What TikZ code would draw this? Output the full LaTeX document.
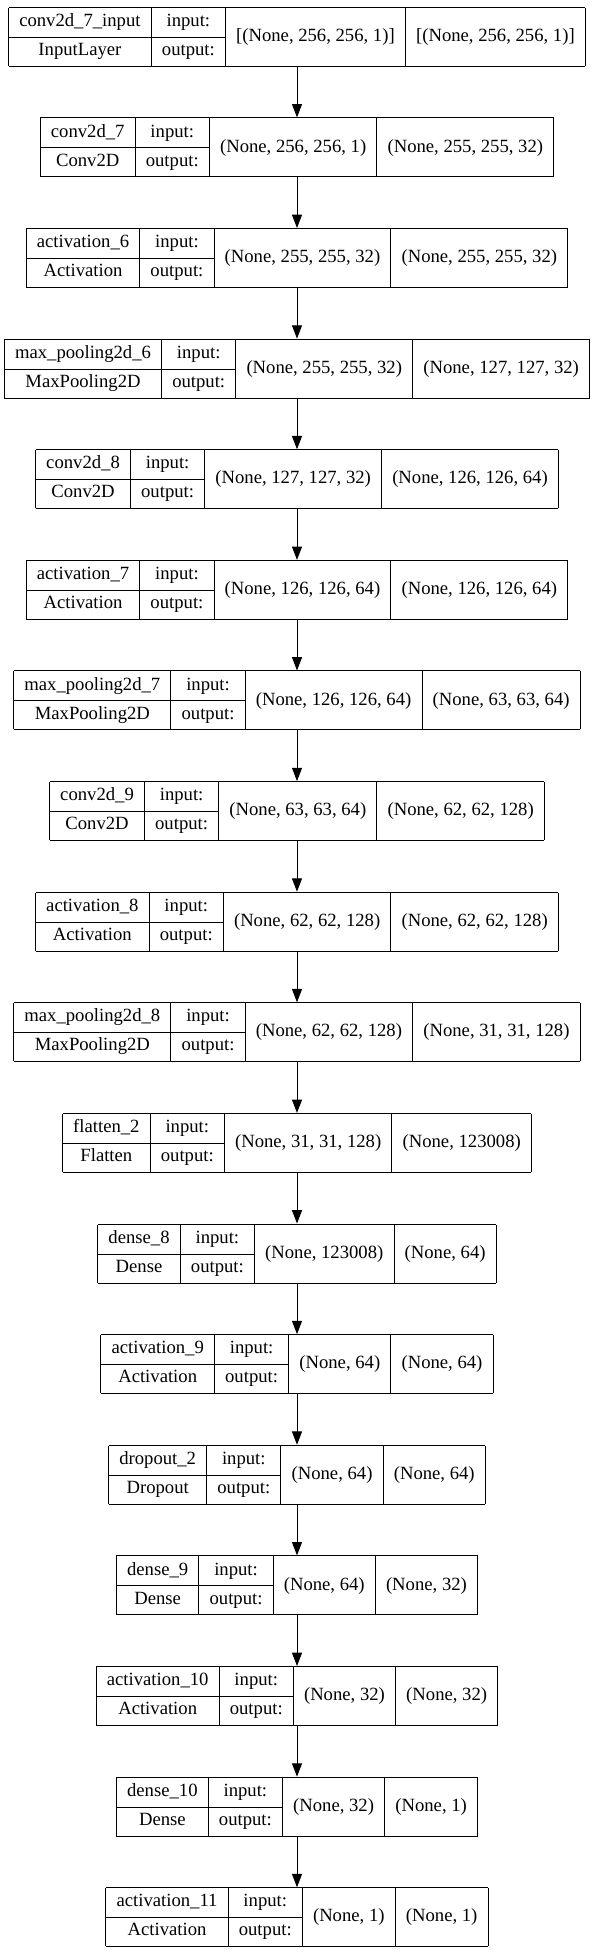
\documentclass[tikz,border=0pt]{standalone}
\usepackage{fontspec}
\setmainfont{Liberation Serif}
\usetikzlibrary{arrows.meta}
\setlength{\arrayrulewidth}{0.75pt}
\setlength{\tabcolsep}{8pt}
\newcommand{\cellstrut}{\rule[-7.75pt]{0pt}{21.75pt}}
\newcommand{\layerbox}[4]{\begin{tabular}{|c|c|c|c|}\hline
#1\cellstrut & input: & \smash{\raisebox{-11.25pt}{#3}} & \smash{\raisebox{-11.25pt}{#4}}\\\cline{1-2}
#2\cellstrut & output: & & \\\hline
\end{tabular}}
\tikzset{
  layer/.style={inner sep=0pt,outer sep=0pt},
  flow/.style={line width=0.75pt,-{Triangle[length=10pt,width=7.5pt]}}
}

\begin{document}
\begin{tikzpicture}[font=\fontsize{14}{16.8}\selectfont]
\useasboundingbox (0,0) rectangle (446.25pt,-1466.25pt);
\node[layer] (in0) at (222.75pt,-27.6pt) {\layerbox{conv2d\_7\_input}{InputLayer}{[(None, 256, 256, 1)]}{[(None, 256, 256, 1)]}};
\node[layer] (conv7) at (222.75pt,-110.56pt) {\layerbox{conv2d\_7}{Conv2D}{(None, 256, 256, 1)}{(None, 255, 255, 32)}};
\node[layer] (act6) at (222.75pt,-193.52pt) {\layerbox{activation\_6}{Activation}{(None, 255, 255, 32)}{(None, 255, 255, 32)}};
\node[layer] (pool6) at (222.75pt,-276.48pt) {\layerbox{max\_pooling2d\_6}{MaxPooling2D}{(None, 255, 255, 32)}{(None, 127, 127, 32)}};
\node[layer] (conv8) at (222.75pt,-359.44pt) {\layerbox{conv2d\_8}{Conv2D}{(None, 127, 127, 32)}{(None, 126, 126, 64)}};
\node[layer] (act7) at (222.75pt,-442.4pt) {\layerbox{activation\_7}{Activation}{(None, 126, 126, 64)}{(None, 126, 126, 64)}};
\node[layer] (pool7) at (222.75pt,-525.36pt) {\layerbox{max\_pooling2d\_7}{MaxPooling2D}{(None, 126, 126, 64)}{(None, 63, 63, 64)}};
\node[layer] (conv9) at (222.75pt,-608.32pt) {\layerbox{conv2d\_9}{Conv2D}{(None, 63, 63, 64)}{(None, 62, 62, 128)}};
\node[layer] (act8) at (222.75pt,-691.28pt) {\layerbox{activation\_8}{Activation}{(None, 62, 62, 128)}{(None, 62, 62, 128)}};
\node[layer] (pool8) at (222.75pt,-774.24pt) {\layerbox{max\_pooling2d\_8}{MaxPooling2D}{(None, 62, 62, 128)}{(None, 31, 31, 128)}};
\node[layer] (flat2) at (222.75pt,-857.2pt) {\layerbox{flatten\_2}{Flatten}{(None, 31, 31, 128)}{(None, 123008)}};
\node[layer] (dense8) at (222.75pt,-940.16pt) {\layerbox{dense\_8}{Dense}{(None, 123008)}{(None, 64)}};
\node[layer] (act9) at (222.75pt,-1023.12pt) {\layerbox{activation\_9}{Activation}{(None, 64)}{(None, 64)}};
\node[layer] (drop2) at (222.75pt,-1106.08pt) {\layerbox{dropout\_2}{Dropout}{(None, 64)}{(None, 64)}};
\node[layer] (dense9) at (222.75pt,-1189.04pt) {\layerbox{dense\_9}{Dense}{(None, 64)}{(None, 32)}};
\node[layer] (act10) at (222.75pt,-1272.0pt) {\layerbox{activation\_10}{Activation}{(None, 32)}{(None, 32)}};
\node[layer] (dense10) at (222.75pt,-1354.96pt) {\layerbox{dense\_10}{Dense}{(None, 32)}{(None, 1)}};
\node[layer] (act11) at (222.75pt,-1437.92pt) {\layerbox{activation\_11}{Activation}{(None, 1)}{(None, 1)}};

\draw[flow] (in0) -- (conv7);
\draw[flow] (conv7) -- (act6);
\draw[flow] (act6) -- (pool6);
\draw[flow] (pool6) -- (conv8);
\draw[flow] (conv8) -- (act7);
\draw[flow] (act7) -- (pool7);
\draw[flow] (pool7) -- (conv9);
\draw[flow] (conv9) -- (act8);
\draw[flow] (act8) -- (pool8);
\draw[flow] (pool8) -- (flat2);
\draw[flow] (flat2) -- (dense8);
\draw[flow] (dense8) -- (act9);
\draw[flow] (act9) -- (drop2);
\draw[flow] (drop2) -- (dense9);
\draw[flow] (dense9) -- (act10);
\draw[flow] (act10) -- (dense10);
\draw[flow] (dense10) -- (act11);
\end{tikzpicture}
\end{document}
